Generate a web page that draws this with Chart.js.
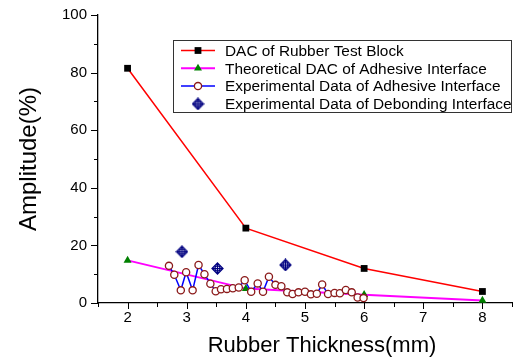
<!DOCTYPE html>
<html>
<head>
<meta charset="utf-8">
<script src="https://cdn.jsdelivr.net/npm/chart.js@4"></script>
<style>
  body { margin: 0; background: #fff; }
  canvas { display: block; }
</style>
</head>
<body>
<canvas id="myChart" width="518" height="362"></canvas>
<script>
// Epaisseur du caoutchouc (mm) / amplitude (%)
var thickness = [2, 4, 6, 8];
var dacRubber = [81.5, 26, 12, 4];
var dacAdhesive = [14.8, 5, 2.9, 0.9];

var expThick = [2.7, 2.79, 2.9, 2.99, 3.1, 3.2, 3.3, 3.4, 3.49, 3.58, 3.68, 3.78, 3.88, 3.98,
  4.09, 4.2, 4.29, 4.39, 4.5, 4.6, 4.7, 4.79, 4.89, 5.0, 5.1, 5.2, 5.29, 5.39, 5.5, 5.59,
  5.69, 5.79, 5.89, 5.99];
var expAmp = [12.9, 9.8, 4.4, 10.7, 4.4, 13.2, 10.0, 6.7, 4.1, 4.8, 4.9, 5.1, 5.4, 7.9,
  3.9, 6.8, 3.9, 9.1, 6.3, 5.8, 3.7, 3.1, 3.7, 3.9, 3.0, 3.2, 6.4, 3.1, 3.5, 3.4,
  4.5, 3.7, 1.9, 1.7];

var debondThick = [2.92, 3.52, 4.67];
var debondAmp = [17.8, 12, 13.2];

var xTicks = [2, 3, 4, 5, 6, 7, 8];
var yTicks = [0, 20, 40, 60, 80, 100];

var FONT = '"Liberation Sans", Arial, sans-serif';

function pts(xs, ys) {
  return xs.map((x, i) => ({ x: x, y: ys[i] }));
}

// losange avec croix pour les points de decollement
function diamondMark(size) {
  var c = document.createElement("canvas");
  c.width = size;
  c.height = size;
  var g = c.getContext("2d");
  var m = size / 2, r = m - 1;
  g.strokeStyle = "#000080";
  g.lineWidth = 1.25;
  g.beginPath();
  g.moveTo(m, m - r);
  g.lineTo(m + r, m);
  g.lineTo(m, m + r);
  g.lineTo(m - r, m);
  g.closePath();
  g.moveTo(m, m - r);
  g.lineTo(m, m + r);
  g.moveTo(m - r, m);
  g.lineTo(m + r, m);
  g.stroke();
  g.beginPath();
  g.arc(m, m, r * 0.48, 0, 2 * Math.PI);
  g.stroke();
  return c;
}
var debondMark = diamondMark(13);

// graduations, titres des axes et legende
var decorPlugin = {
  id: "decor",
  afterDraw(chart) {
    var ctx = chart.ctx;
    var xs = chart.scales.x, ys = chart.scales.y;
    var area = chart.chartArea;
    ctx.save();
    ctx.strokeStyle = "#000";
    ctx.lineWidth = 1;
    ctx.beginPath();
    for (var v = xs.min; v <= xs.max + 1e-9; v += 0.5) {
      var px = Math.round(xs.getPixelForValue(v)) + 0.5;
      var len = xTicks.indexOf(v) >= 0 ? 6 : 4;
      ctx.moveTo(px, area.bottom);
      ctx.lineTo(px, area.bottom + len);
    }
    for (var w = ys.min; w <= ys.max + 1e-9; w += 10) {
      var py = Math.round(ys.getPixelForValue(w)) + 0.5;
      var l2 = yTicks.indexOf(w) >= 0 ? 7 : 4;
      ctx.moveTo(area.left, py);
      ctx.lineTo(area.left - l2, py);
    }
    ctx.stroke();

    // titres
    ctx.fillStyle = "#000";
    ctx.textAlign = "center";
    ctx.textBaseline = "middle";
    ctx.font = "22px " + FONT;
    ctx.fillText("Rubber Thickness(mm)", 322, 346);
    ctx.save();
    ctx.translate(29, (area.top + area.bottom) / 2);
    ctx.rotate(-Math.PI / 2);
    ctx.font = "24px " + FONT;
    ctx.fillText("Amplitude(%)", 0, 0);
    ctx.restore();

    // legende
    var bx = 173.5, by = 40.5, bw = 338, bh = 72;
    ctx.fillStyle = "#fff";
    ctx.fillRect(bx, by, bw, bh);
    ctx.strokeStyle = "#333";
    ctx.lineWidth = 1;
    ctx.strokeRect(bx, by, bw, bh);
    ctx.font = "15.4px " + FONT;
    ctx.textAlign = "left";
    chart.data.datasets.slice().reverse().forEach(function (ds, i) {
      var y = 50.5 + i * 17.8;
      if (ds.showLine) {
        ctx.strokeStyle = ds.borderColor;
        ctx.lineWidth = ds.borderWidth;
        ctx.beginPath();
        ctx.moveTo(181, y);
        ctx.lineTo(215, y);
        ctx.stroke();
      }
      ctx.fillStyle = ds.pointBackgroundColor;
      ctx.strokeStyle = ds.pointBorderColor;
      ctx.lineWidth = ds.pointBorderWidth;
      Chart.helpers.drawPoint(ctx, {
        pointStyle: ds.pointStyle,
        radius: ds.pointRadius,
        rotation: 0,
        borderWidth: ds.pointBorderWidth
      }, 198, y);
      ctx.fillStyle = "#000";
      ctx.fillText(ds.label, 225, y + 1);
    });
    ctx.restore();
  }
};

var ctx1 = document.getElementById("myChart").getContext("2d");
new Chart(ctx1, {
  type: "scatter",
  data: {
    datasets: [
      {
        label: "Experimental Data of Debonding Interface",
        data: pts(debondThick, debondAmp),
        showLine: false,
        pointStyle: debondMark,
        pointRadius: 6,
        pointBorderWidth: 0,
        pointBackgroundColor: "#000080",
        pointBorderColor: "#000080",
      },
      {
        label: "Experimental Data of Adhesive Interface",
        data: pts(expThick, expAmp),
        showLine: true,
        borderColor: "#0000ff",
        borderWidth: 1.5,
        pointStyle: "circle",
        pointRadius: 3.6,
        pointBorderWidth: 1.3,
        pointBackgroundColor: "#ffffff",
        pointBorderColor: "#8b1a1a",
      },
      {
        label: "Theoretical DAC of Adhesive Interface",
        data: pts(thickness, dacAdhesive),
        showLine: true,
        borderColor: "#ff00ff",
        borderWidth: 2,
        pointStyle: "triangle",
        pointRadius: 4.6,
        pointBorderWidth: 0,
        pointBackgroundColor: "#008000",
        pointBorderColor: "#008000",
      },
      {
        label: "DAC of Rubber Test Block",
        data: pts(thickness, dacRubber),
        showLine: true,
        borderColor: "#ff0000",
        borderWidth: 1.5,
        pointStyle: "rect",
        pointRadius: 4.8,
        pointBorderWidth: 0,
        pointBackgroundColor: "#000000",
        pointBorderColor: "#000000",
      },
    ],
  },
  options: {
    responsive: false,
    animation: false,
    devicePixelRatio: 1,
    layout: { padding: { top: 15, right: 1, left: 0, bottom: 0 } },
    plugins: { legend: { display: false }, tooltip: { enabled: false } },
    elements: { line: { tension: 0 } },
    datasets: { scatter: { clip: false } },
    scales: {
      x: {
        type: "linear",
        min: 1.5,
        max: 8.5,
        afterBuildTicks: (s) => { s.ticks = xTicks.map((v) => ({ value: v })); },
        afterFit: (s) => { s.height = 59; s.paddingLeft = 0; s.paddingRight = 0; },
        ticks: { color: "#000", font: { family: FONT, size: 15 }, padding: 6, maxRotation: 0, autoSkip: false },
        grid: { display: false, drawTicks: false },
        border: { display: true, color: "#000", width: 1.3 },
      },
      y: {
        min: 0,
        max: 100,
        afterBuildTicks: (s) => { s.ticks = yTicks.map((v) => ({ value: v })); },
        afterFit: (s) => { s.width = 98; s.paddingTop = 0; s.paddingBottom = 0; },
        ticks: { color: "#000", font: { family: FONT, size: 15 }, padding: 11 },
        grid: { display: false, drawTicks: false },
        border: { display: true, color: "#000", width: 1.3 },
      },
    },
  },
  plugins: [decorPlugin],
});
</script>
</body>
</html>
